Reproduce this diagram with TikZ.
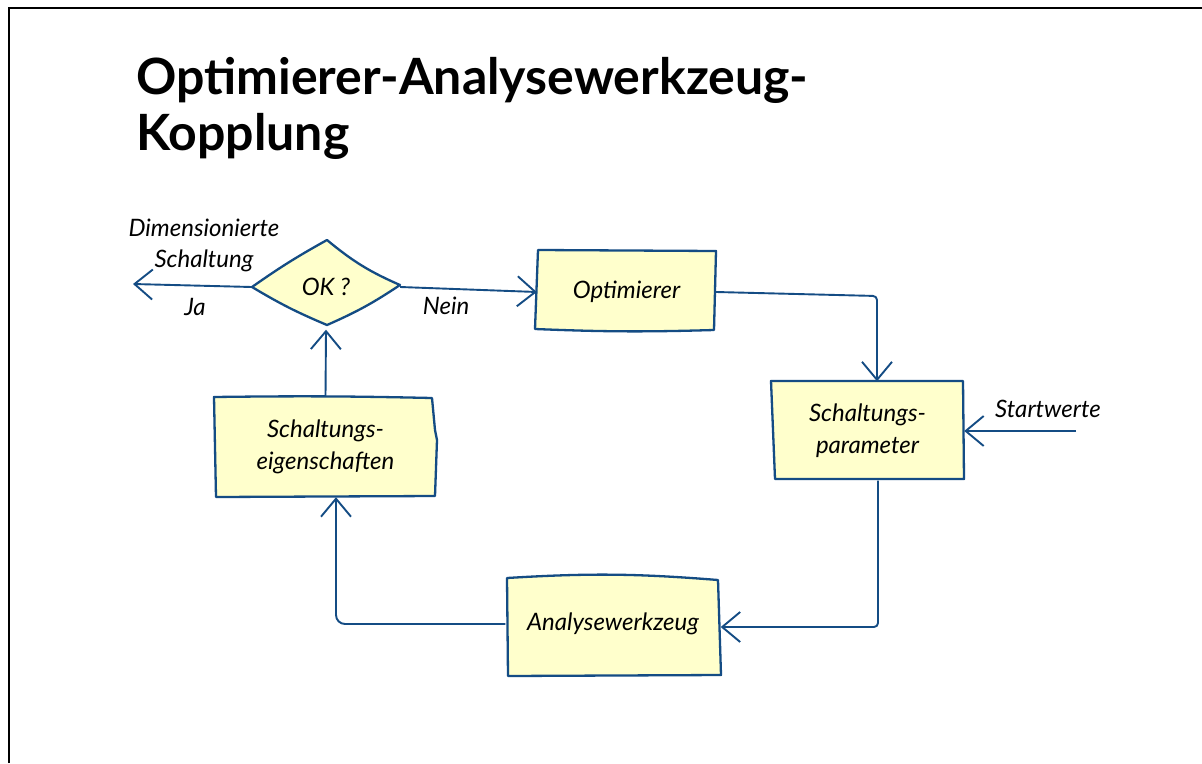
\documentclass[tikz,border=0pt]{standalone}
\usepackage{fontspec}
\setmainfont{Lato}
\usetikzlibrary{arrows.meta}
\definecolor{ink}{RGB}{20,76,132}
\definecolor{pad}{RGB}{255,255,204}
\tikzset{
  >={Straight Barb[length=18pt,width=30pt]},
  frame/.style={draw=black, line width=2.6pt},
  outline/.style={draw=ink, fill=pad, line width=2.3pt, line join=round},
  holder/.style={draw=none, inner sep=0pt, align=center,
    font=\fontsize{24}{32}\selectfont\itshape},
  lbl/.style={inner sep=0pt, align=center, font=\fontsize{24}{31}\selectfont\itshape},
  titletext/.style={inner sep=0pt, anchor=base west, font=\fontsize{50}{56}\selectfont\bfseries},
  flow/.style={draw=ink, line width=1.9pt, line join=round, ->},
}
\begin{document}
\begin{tikzpicture}[x=1pt,y=-1pt]
\useasboundingbox (0,0) rectangle (1202,763);
\fill[white] (0,0) rectangle (1202,763);

% page frame
\draw[frame] (9,763) -- (9,8) -- (1202,8);

% heading
\node[titletext] (title1) at (136,94) {Optimierer-Analysewerkzeug-};
\node[titletext] (title2) at (136,150) {Kopplung};

% hand-drawn outlines
\draw[outline] (252,287) to[bend left=3] (327,240) to[bend right=8] (400,285)
  to[bend left=5] (327,325) to[bend left=4] cycle;
\draw[outline] (538,250) -- (716,251) -- (714,330) to[bend left=2] (535,329) -- cycle;
\draw[outline] (771,381) -- (963,381) -- (964,479) -- (775,479) -- cycle;
\draw[outline] (214,397) to[bend left=1] (432,398) -- (435,430) -- (437,440)
  -- (435,496) -- (216,497) -- cycle;
\draw[outline] (507,578) to[bend left=4] (718,580) -- (721,675) -- (508,676) -- cycle;

% nodes holding the texts
\node[holder, minimum width=148pt, minimum height=85pt] (ok) at (326,287) {OK ?};
\node[holder, minimum width=179pt, minimum height=80pt] (opt) at (626.5,292) {Optimierer};
\node[holder, minimum width=193pt, minimum height=99pt] (sp) at (867.5,431) {Schaltungs-\\parameter};
\node[holder, minimum width=221pt, minimum height=100pt] (es) at (325.5,447) {Schaltungs-\\eigenschaften};
\node[holder, minimum width=215pt, minimum height=102pt] (aw) at (613,624) {Analysewerkzeug};

% loose ends and bends
\coordinate (jaend) at (133,284);
\coordinate (sw) at (1076,431);
\coordinate (k1) at (877,296);
\coordinate (k2) at (878,627);
\coordinate (k3) at (336,627);

% connectors
\draw[flow] (ok.west) -- (jaend);
\draw[flow] (ok.east) -- (opt.west);
\draw[flow, rounded corners=4pt] (opt.east) -- (k1) -- (k1 |- sp.north);
\draw[flow] (sw) -- (sw -| sp.east);
\draw[flow, rounded corners=4pt] (k2 |- sp.south) -- (k2) -- (k2 -| aw.east);
\draw[flow, rounded corners=9pt] (aw.west) -- (k3 |- aw.west) -- (k3 |- es.south);
\draw[flow] (es.north) -- (ok.south);

% connector labels
\node[lbl] (dim) at (204,245) {Dimensionierte\\Schaltung};
\node[lbl] (ja) at (195,307) {Ja};
\node[lbl] (nein) at (446,306) {Nein};
\node[lbl] (start) at (1048,409) {Startwerte};
\end{tikzpicture}
\end{document}
